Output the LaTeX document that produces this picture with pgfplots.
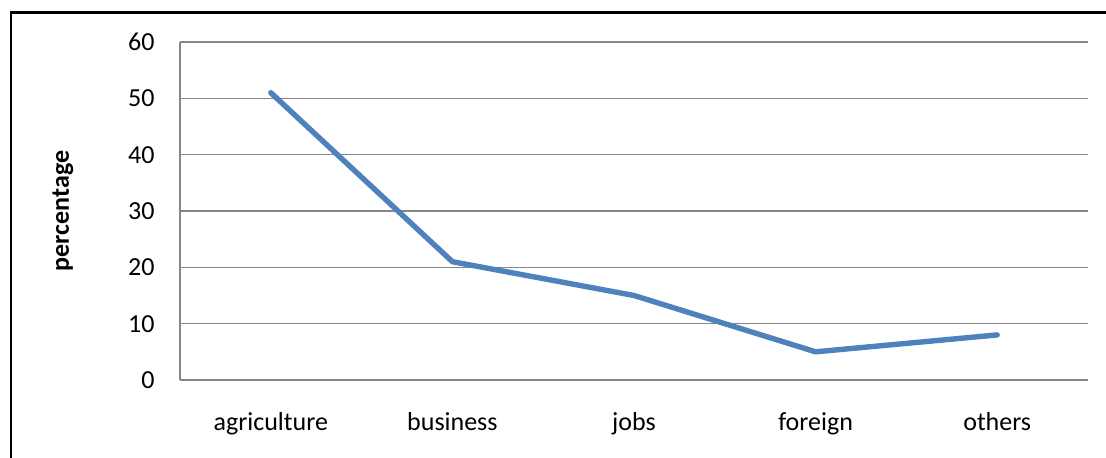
\documentclass[border=0pt]{standalone}
\usepackage{fontspec}
\setmainfont{Carlito}
\usepackage{pgfplots}
\pgfplotsset{compat=1.18}
\definecolor{exblue}{RGB}{79,129,189}
\definecolor{gridgray}{RGB}{134,134,134}
\begin{document}
\fontsize{13}{15}\selectfont
\begin{tikzpicture}
\path[use as bounding box] (0,0) rectangle (553pt,229pt);
\draw[black,line width=1.4pt] (5.5pt,0) -- (5.5pt,222.8pt) -- (553pt,222.8pt);
\begin{axis}[
  at={(90pt,39pt)}, anchor=south west,
  scale only axis, width=454pt, height=169pt,
  xmin=-0.5, xmax=4.5, ymin=0, ymax=60,
  xtick={0,1,2,3,4},
  xticklabels={agriculture,business,jobs,foreign,others},
  ytick={0,10,20,30,40,50,60},
  major tick length=0pt,
  ymajorgrids,
  grid style={gridgray,line width=0.75pt},
  axis x line*=bottom, axis y line*=left,
  axis line style={gridgray,line width=0.75pt,-},
  /pgf/number format/assume math mode=true,
  tick label style={font=\fontsize{13}{15}\selectfont},
  yticklabel style={anchor=east,inner sep=0pt,xshift=-12.5pt},
  xticklabel style={anchor=base,inner sep=0pt,yshift=-25.5pt},
  ylabel={percentage},
  ylabel style={at={(axis description cs:-0.1289,0.5)},anchor=center,rotate=0,font=\fontsize{13}{15}\selectfont\bfseries},
  clip=false,
]
\addplot[exblue,line width=2.7pt,line cap=round,line join=round,mark=none] coordinates {
 (0,51) (1,21) (2,15) (3,5) (4,8)
};
\end{axis}
\end{tikzpicture}
\end{document}
